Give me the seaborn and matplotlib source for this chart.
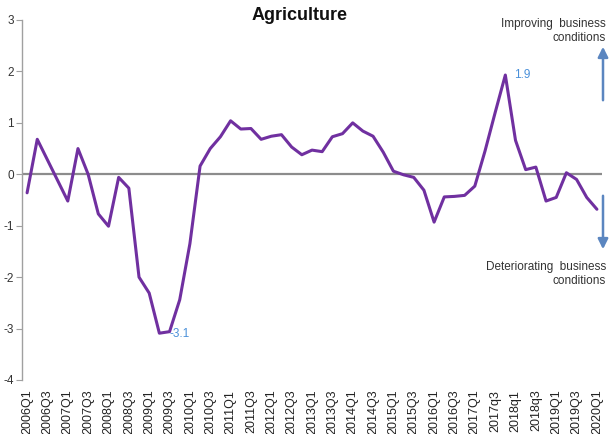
import matplotlib
matplotlib.use("Agg")
import matplotlib.pyplot as plt
import seaborn as sns
import pandas as pd
import numpy as np

quarters = [f"{y}Q{q}" for y in range(2006, 2020) for q in range(1, 5)] + ["2020Q1"]
values = [
    -0.36, 0.68, 0.28, -0.12,
    -0.52, 0.50, 0.00, -0.77,
    -1.01, -0.06, -0.27, -2.00,
    -2.31, -3.09, -3.06, -2.44,
    -1.35, 0.16, 0.50, 0.73,
    1.04, 0.88, 0.89, 0.68,
    0.74, 0.77, 0.53, 0.38,
    0.47, 0.44, 0.73, 0.79,
    1.00, 0.84, 0.74, 0.43,
    0.06, -0.01, -0.06, -0.31,
    -0.93, -0.44, -0.43, -0.41,
    -0.23, 0.45, 1.20, 1.93,
    0.66, 0.09, 0.14, -0.52,
    -0.45, 0.03, -0.10, -0.45,
    -0.68,
]
tick_labels = ["2006Q1", "2006Q3", "2007Q1", "2007Q3", "2008Q1", "2008Q3",
               "2009Q1", "2009Q3", "2010Q1", "2010Q3", "2011Q1", "2011Q3",
               "2012Q1", "2012Q3", "2013Q1", "2013Q3", "2014Q1", "2014Q3",
               "2015Q1", "2015Q3", "2016Q1", "2016Q3", "2017Q1", "2017q3",
               "2018q1", "2018q3", "2019Q1", "2019Q3", "2020Q1"]
yticks = [-4, -3, -2, -1, 0, 1, 2, 3]
min_label = ("2009Q3", "-3.1")
max_label = ("2017Q4", "1.9")

sns.set_theme(style="white")
plt.rcParams["font.family"] = ["Liberation Sans", "DejaVu Sans"]

df = pd.DataFrame({"idx": np.arange(len(values)), "quarter": quarters, "value": values})

W, H = 609, 434
fig = plt.figure(figsize=(W / 100, H / 100), dpi=100)
ax = fig.add_axes([22 / W, 1 - 380 / H, (602 - 22) / W, (380 - 20) / H])

ax.axhline(0, color="#8c8c8c", lw=1.6, zorder=1)
sns.lineplot(data=df, x="idx", y="value", color="#7030a0", lw=2.2, ax=ax, zorder=3)

ax.set_xlim(-0.5, len(values) - 0.5)
ax.set_ylim(-4, 3)
ax.set_yticks(yticks)
ax.set_yticklabels([str(v) for v in yticks], fontsize=8.5, color="#333333")
ax.set_xticks(np.arange(0, len(values), 2))
ax.set_xticklabels(tick_labels, rotation=90, fontsize=9, color="#222222")
ax.set_xlabel("")
ax.set_ylabel("")
for s in ["top", "right", "bottom"]:
    ax.spines[s].set_visible(False)
ax.spines["left"].set_color("#a0a0a0")
ax.spines["left"].set_linewidth(1.0)
ax.tick_params(axis="y", which="both", left=True, length=4, width=0.8, color="#a0a0a0", pad=2)
ax.tick_params(axis="x", which="both", bottom=False, pad=1)

fig.text(300 / W, 1 - 16 / H, "Agriculture", ha="center", va="center",
         fontsize=13, fontweight="bold", color="#111111")

# data labels
i_min = quarters.index(min_label[0])
i_max = quarters.index(max_label[0])
ax.annotate(min_label[1], (i_min, values[i_min]), xytext=(0, -2), textcoords="offset points",
            fontsize=8.5, color="#4a90d9", ha="left", va="center")
ax.annotate(max_label[1], (i_max, values[i_max]), xytext=(6, 0), textcoords="offset points",
            fontsize=8.5, color="#4a90d9", ha="left", va="center")

# side notes
fig.text(606 / W, 1 - 24 / H, "Improving  business", ha="right", va="center", fontsize=8.5, color="#333333")
fig.text(606 / W, 1 - 38 / H, "conditions", ha="right", va="center", fontsize=8.5, color="#333333")
fig.text(606 / W, 1 - 267 / H, "Deteriorating  business", ha="right", va="center", fontsize=8.5, color="#333333")
fig.text(606 / W, 1 - 281 / H, "conditions", ha="right", va="center", fontsize=8.5, color="#333333")

arrow_kw = dict(arrowstyle="-|>,head_length=0.5,head_width=0.25", color="#5b86c0", lw=1.8)
fig.patches.append(matplotlib.patches.FancyArrowPatch((603 / W, 1 - 103 / H), (603 / W, 1 - 44 / H),
                                                      transform=fig.transFigure, mutation_scale=12, **arrow_kw))
fig.patches.append(matplotlib.patches.FancyArrowPatch((603 / W, 1 - 193 / H), (603 / W, 1 - 252 / H),
                                                      transform=fig.transFigure, mutation_scale=12, **arrow_kw))

fig.savefig("out.png", dpi=100)
